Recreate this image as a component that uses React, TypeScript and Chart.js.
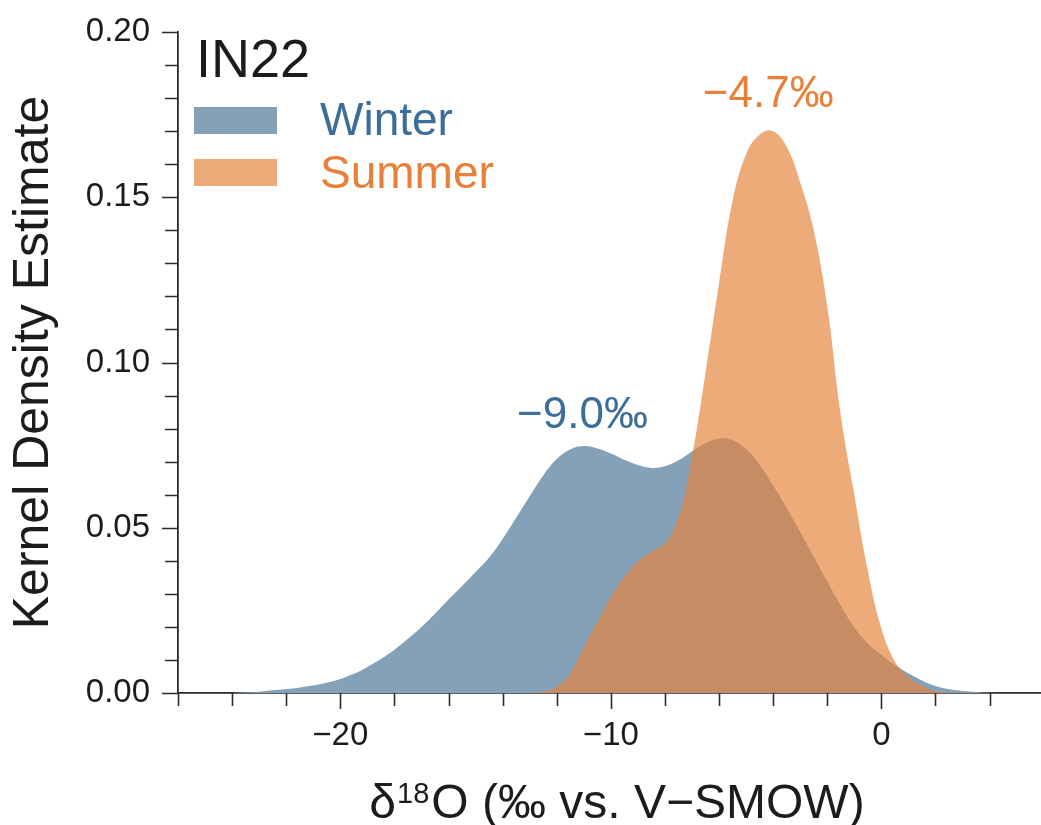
import { useEffect, useRef } from "react";
import { Chart, registerables } from "chart.js";

Chart.register(...registerables);

// Kernel density estimates of δ18O for the IN22 site
const winterX = [
  -24, -23.5, -23, -22.5, -22, -21.5, -21, -20.5, -20, -19.5, -19, -18.5, -18, -17.5,
  -17, -16.5, -16, -15.5, -15, -14.5, -14, -13.5, -13, -12.5, -12, -11.5, -11, -10.5,
  -10, -9.5, -9, -8.5, -8, -7.5, -7, -6.5, -6, -5.5, -5, -4.5, -4, -3.5, -3, -2.5, -2,
  -1.5, -1, -0.5, 0, 0.5, 1, 1.5, 2, 2.5, 3, 3.5, 4, 4.5,
];
const winterDensity = [
  0.0, 0.0002, 0.0004, 0.0008, 0.0012, 0.0017, 0.0023, 0.0031, 0.0042, 0.0058, 0.0079,
  0.0103, 0.0131, 0.0164, 0.02, 0.024, 0.0283, 0.0324, 0.0366, 0.041, 0.0466, 0.053,
  0.0595, 0.0658, 0.0708, 0.0737, 0.0747, 0.074, 0.0725, 0.0706, 0.069, 0.0681, 0.0686,
  0.0704, 0.0731, 0.0756, 0.077, 0.0765, 0.0738, 0.069, 0.0628, 0.056, 0.0487, 0.0412,
  0.0337, 0.0264, 0.0198, 0.015, 0.0115, 0.0085, 0.006, 0.0038, 0.0021, 0.0011, 0.0006,
  0.0003, 0.0001, 0.0,
];

const summerX = [
  -13, -12.5, -12, -11.5, -11, -10.5, -10, -9.5, -9, -8.5, -8, -7.5, -7, -6.5, -6, -5.5,
  -5, -4.5, -4, -3.5, -3, -2.5, -2, -1.5, -1, -0.5, 0, 0.5, 1, 1.5, 2, 2.5,
];
const summerDensity = [
  0.0, 0.0003, 0.0018, 0.006, 0.0138, 0.0215, 0.029, 0.0352, 0.0398, 0.0427, 0.0452,
  0.053, 0.0715, 0.097, 0.124, 0.149, 0.163, 0.169, 0.17, 0.1653, 0.1545, 0.14, 0.117,
  0.084, 0.06, 0.037, 0.0195, 0.0095, 0.0048, 0.0022, 0.0005, 0.0,
];

const seriesNames = ["Winter", "Summer"];
const panelTitle = "IN22";

// mean values written above each distribution, anchored in data units
const meanLabels = ["−9.0‰", "−4.7‰"];
const meanLabelX = [-11.05, -4.18];
const meanLabelY = [0.0802, 0.1773];

const xLabelledTicks = [-20, -10, 0];
const yLabelledTicks = [0, 0.05, 0.1, 0.15, 0.2];

const FONT = '"Liberation Sans", Arial, Helvetica, sans-serif';
const AXIS_COLOR = "#2b2b2b";
const TEXT_COLOR = "#1c1c1c";
const WINTER_FILL = "#84a1b7";
const SUMMER_FILL = "rgba(230, 131, 58, 0.675)";
const SUMMER_SWATCH = "#eeab7a";
const WINTER_TEXT = "#3b6e99";
const SUMMER_TEXT = "#e8803a";

const fmtMinus = (v: number, digits: number) => {
  const s = Math.abs(v).toFixed(digits);
  return v < -1e-9 ? "\u2212" + s : s;
};

const isOneOf = (v: number, list: number[]) => list.some((t) => Math.abs(t - v) < 1e-6);

const decorations = {
  id: "decorations",
  afterDraw(chart: any) {
    const { ctx, chartArea, scales } = chart;
    const xs = scales.x;
    const ys = scales.y;
    ctx.save();

    // tick marks: long for labelled ticks, short for the minor ones
    ctx.strokeStyle = AXIS_COLOR;
    ctx.lineWidth = 1.6;
    ctx.beginPath();
    xs.ticks.forEach((t: any) => {
      const px = Math.round(xs.getPixelForValue(t.value)) + 0.5;
      const len = t.label ? 16 : 13;
      ctx.moveTo(px, chartArea.bottom);
      ctx.lineTo(px, chartArea.bottom + len);
    });
    ys.ticks.forEach((t: any) => {
      const py = Math.round(ys.getPixelForValue(t.value)) + 0.5;
      const len = t.label ? 16 : 13;
      ctx.moveTo(chartArea.left, py);
      ctx.lineTo(chartArea.left - len, py);
    });
    ctx.stroke();

    // y axis title
    ctx.fillStyle = TEXT_COLOR;
    ctx.save();
    ctx.translate(48, (chartArea.top + chartArea.bottom) / 2);
    ctx.rotate(-Math.PI / 2);
    ctx.font = `50px ${FONT}`;
    ctx.textAlign = "center";
    ctx.textBaseline = "alphabetic";
    ctx.fillText("Kernel Density Estimate", 0, 0);
    ctx.restore();

    // x axis title with superscript mass number
    const big = `48px ${FONT}`;
    const small = `29px ${FONT}`;
    const partA = "δ";
    const partSup = "18";
    const partB = "O (‰ vs. V\u2212SMOW)";
    ctx.font = big;
    const wA = ctx.measureText(partA).width;
    const wB = ctx.measureText(partB).width;
    ctx.font = small;
    const wSup = ctx.measureText(partSup).width;
    const total = wA + wSup + wB + 3;
    let cx = 617 - total / 2;
    const base = 818;
    ctx.textAlign = "left";
    ctx.textBaseline = "alphabetic";
    ctx.font = big;
    ctx.fillText(partA, cx, base);
    cx += wA + 1;
    ctx.font = small;
    ctx.fillText(partSup, cx, base - 15);
    cx += wSup + 2;
    ctx.font = big;
    ctx.fillText(partB, cx, base);

    // panel title
    ctx.font = `54px ${FONT}`;
    ctx.fillStyle = TEXT_COLOR;
    ctx.fillText(panelTitle, 196, 77);

    // legend
    const swatches = [WINTER_FILL, SUMMER_SWATCH];
    const textColors = [WINTER_TEXT, SUMMER_TEXT];
    const rowTop = [107, 159];
    const rowBase = [135, 188];
    ctx.font = `46px ${FONT}`;
    seriesNames.forEach((name, i) => {
      ctx.fillStyle = swatches[i];
      ctx.fillRect(194, rowTop[i], 83, 27);
      ctx.fillStyle = textColors[i];
      ctx.fillText(name, 320, rowBase[i]);
    });

    // mean annotations
    ctx.font = `44px ${FONT}`;
    ctx.textAlign = "center";
    meanLabels.forEach((label, i) => {
      ctx.fillStyle = textColors[i];
      ctx.fillText(label, xs.getPixelForValue(meanLabelX[i]), ys.getPixelForValue(meanLabelY[i]));
    });

    ctx.restore();
  },
};

export default function App() {
  const canvasRef = useRef<HTMLCanvasElement | null>(null);

  useEffect(() => {
    const canvas = canvasRef.current;
    if (!canvas) return;

    const chart = new Chart(canvas, {
      type: "line",
      data: {
        datasets: [
          {
            label: seriesNames[1],
            data: summerX.map((x, i) => ({ x, y: summerDensity[i] })),
            backgroundColor: SUMMER_FILL,
            borderWidth: 0,
            borderColor: "rgba(0,0,0,0)",
            pointRadius: 0,
            fill: "origin",
            tension: 0.4,
            order: 1,
          },
          {
            label: seriesNames[0],
            data: winterX.map((x, i) => ({ x, y: winterDensity[i] })),
            backgroundColor: WINTER_FILL,
            borderWidth: 0,
            borderColor: "rgba(0,0,0,0)",
            pointRadius: 0,
            fill: "origin",
            tension: 0.4,
            order: 2,
          },
        ],
      },
      options: {
        animation: false,
        responsive: false,
        maintainAspectRatio: false,
        events: [],
        layout: { padding: { top: 32, left: 0, right: 0, bottom: 0 } },
        plugins: {
          legend: { display: false },
          tooltip: { enabled: false },
          title: { display: false },
        },
        scales: {
          x: {
            type: "linear",
            min: -26,
            max: 5.9,
            z: 1,
            grid: { display: false, drawTicks: true, tickLength: 16 },
            border: { display: true, color: AXIS_COLOR, width: 1.8 },
            ticks: {
              stepSize: 2,
              includeBounds: false,
              autoSkip: false,
              maxRotation: 0,
              padding: 7,
              color: TEXT_COLOR,
              font: { family: FONT, size: 33 },
              callback: (v: any) => (isOneOf(Number(v), xLabelledTicks) ? fmtMinus(Number(v), 0) : ""),
            },
            afterFit: (scale: any) => {
              scale.height = 825 - 693;
            },
          },
          y: {
            type: "linear",
            min: 0,
            max: 0.2,
            z: 1,
            grid: { display: false, drawTicks: true, tickLength: 16 },
            border: { display: true, color: AXIS_COLOR, width: 1.8 },
            ticks: {
              stepSize: 0.01,
              autoSkip: false,
              padding: 12,
              color: TEXT_COLOR,
              font: { family: FONT, size: 33 },
              callback: (v: any) => (isOneOf(Number(v), yLabelledTicks) ? Number(v).toFixed(2) : ""),
            },
            afterFit: (scale: any) => {
              scale.width = 178;
            },
          },
        },
      },
      plugins: [decorations],
    });

    return () => chart.destroy();
  }, []);

  return (
    <div style={{ position: "absolute", left: 0, top: 0, width: 1041, height: 825, background: "#fff" }}>
      <canvas ref={canvasRef} width={1041} height={825} style={{ display: "block", width: 1041, height: 825 }} />
    </div>
  );
}
